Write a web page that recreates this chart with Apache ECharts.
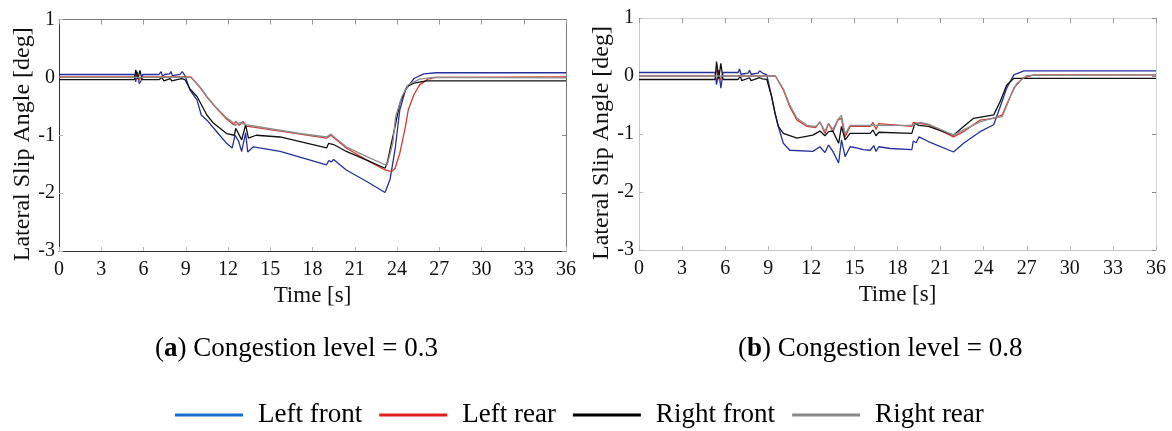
<!DOCTYPE html>
<html><head><meta charset="utf-8">
<script src="https://cdn.jsdelivr.net/npm/echarts@6/dist/echarts.min.js"></script>
<style>html,body{margin:0;padding:0;background:#fff}#c{width:1172px;height:431px}</style>
</head><body><div id="c"></div>
<script>
// ---- data (time [s], lateral slip angle [deg]) ----
const seriesNames = ['Left front', 'Left rear', 'Right front', 'Right rear'];
const captions = ['Congestion level = 0.3', 'Congestion level = 0.8'];
const captionTags = ['a', 'b'];
const xTicks = [0, 3, 6, 9, 12, 15, 18, 21, 24, 27, 30, 33, 36];
const yTicks = [-3, -2, -1, 0, 1];

// (a) congestion 0.3
const aLeftFront = [[0,0.05],[5.35,0.05],[5.45,-0.08],[5.55,0.1],[5.7,-0.11],[5.85,-0.05],[5.95,0.05],[7.1,0.05],[7.25,0.1],[7.35,0.02],[7.5,0.05],[7.85,0.06],[7.95,0.1],[8.05,0.03],[8.6,0.05],[8.75,0.1],[8.95,0.03],[9.3,-0.22],[9.8,-0.39],[10.1,-0.65],[10.5,-0.74],[11.2,-0.94],[11.9,-1.14],[12.3,-1.22],[12.5,-1.0],[12.75,-1.1],[12.97,-1.28],[13.25,-0.96],[13.4,-1.29],[13.8,-1.2],[15.7,-1.28],[19.0,-1.51],[19.15,-1.44],[19.35,-1.46],[19.5,-1.42],[20.4,-1.6],[21.85,-1.8],[23.15,-1.99],[23.5,-1.77],[23.86,-1.25],[24.2,-0.56],[24.6,-0.22],[25.2,-0.02],[25.9,0.06],[26.8,0.08],[36,0.08]];
const aLeftRear = [[0,0.01],[5.4,0.01],[5.5,0.06],[5.65,-0.05],[5.85,0.01],[9.35,0.01],[10.0,-0.17],[10.5,-0.34],[11.2,-0.54],[11.9,-0.72],[12.4,-0.82],[12.55,-0.76],[12.8,-0.83],[13.05,-0.76],[13.3,-0.84],[13.8,-0.86],[15.7,-0.93],[19.0,-1.05],[19.3,-1.0],[19.5,-1.04],[20.4,-1.22],[21.85,-1.43],[23.15,-1.6],[23.6,-1.63],[23.86,-1.57],[24.2,-1.31],[24.6,-0.85],[24.8,-0.56],[25.2,-0.3],[25.6,-0.13],[26.2,-0.03],[26.7,0.0],[36,0.01]];
const aRightFront = [[0,-0.04],[5.35,-0.04],[5.45,0.13],[5.6,-0.02],[5.75,0.12],[5.9,-0.04],[7.1,-0.04],[7.3,0.0],[7.45,-0.06],[7.9,-0.02],[8.0,-0.06],[8.7,-0.02],[8.95,-0.04],[9.3,-0.2],[9.8,-0.33],[10.5,-0.65],[10.96,-0.79],[11.9,-0.97],[12.45,-1.0],[12.55,-0.88],[12.97,-1.08],[13.25,-0.82],[13.45,-1.05],[14.0,-1.0],[15.7,-1.03],[19.0,-1.22],[19.15,-1.14],[19.5,-1.16],[20.4,-1.28],[21.85,-1.43],[23.15,-1.57],[23.3,-1.48],[23.6,-1.14],[23.86,-0.85],[24.2,-0.45],[24.7,-0.16],[25.2,-0.1],[26.1,-0.06],[27.9,-0.06],[28.0,-0.03],[28.1,-0.06],[36,-0.06]];
const aRightRear = [[0,0.0],[9.35,0.0],[10.0,-0.16],[10.5,-0.33],[11.2,-0.53],[11.9,-0.7],[12.4,-0.79],[12.5,-0.83],[12.85,-0.78],[13.3,-0.82],[13.8,-0.84],[17.1,-0.97],[19.0,-1.03],[19.3,-0.98],[19.5,-1.02],[20.4,-1.2],[21.85,-1.37],[23.15,-1.51],[23.3,-1.51],[23.7,-1.14],[23.9,-0.68],[24.35,-0.33],[24.8,-0.13],[25.6,-0.03],[26.6,0.0],[36,-0.01]];

// (b) congestion 0.8
const bLeftFront = [[0,0.06],[5.3,0.06],[5.4,-0.15],[5.55,0.1],[5.7,-0.21],[5.85,0.06],[6.9,0.06],[7.0,0.12],[7.1,0.03],[7.6,0.05],[7.7,0.1],[7.8,0.03],[8.3,0.05],[8.4,0.09],[8.6,0.05],[8.9,0.02],[9.24,-0.36],[9.47,-0.64],[9.7,-0.87],[10.05,-1.16],[10.5,-1.28],[12.1,-1.3],[12.6,-1.22],[12.95,-1.32],[13.2,-1.19],[13.5,-1.3],[13.9,-1.5],[14.1,-1.1],[14.35,-1.39],[14.7,-1.22],[15.15,-1.24],[15.6,-1.27],[16.1,-1.28],[16.35,-1.2],[16.5,-1.3],[16.7,-1.22],[17.5,-1.25],[19.0,-1.27],[19.1,-1.12],[19.3,-1.15],[19.5,-1.05],[20.15,-1.13],[21.9,-1.31],[22.6,-1.16],[23.75,-0.96],[24.7,-0.84],[25.15,-0.53],[25.6,-0.21],[26.1,0.02],[26.8,0.09],[36,0.09]];
const bLeftRear = [[0,0.0],[5.3,0.0],[5.45,0.12],[5.6,-0.08],[5.8,0.0],[9.5,0.0],[10.05,-0.24],[10.5,-0.53],[11.0,-0.76],[11.7,-0.87],[12.3,-0.89],[12.6,-0.79],[12.95,-0.99],[13.2,-0.82],[13.5,-0.96],[13.85,-0.76],[14.1,-0.73],[14.35,-1.05],[14.7,-0.87],[16.1,-0.87],[16.3,-0.8],[16.5,-0.92],[16.7,-0.82],[19.0,-0.87],[19.1,-0.8],[19.6,-0.82],[20.15,-0.84],[21.9,-1.05],[22.6,-0.96],[23.75,-0.76],[24.7,-0.73],[25.3,-0.67],[25.75,-0.41],[26.1,-0.21],[26.7,-0.04],[27.5,0.02],[36,0.02]];
const bRightFront = [[0,-0.06],[5.3,-0.06],[5.4,0.25],[5.55,-0.05],[5.7,0.22],[5.85,-0.06],[6.9,-0.06],[7.05,0.0],[7.15,-0.08],[7.7,-0.03],[7.8,-0.08],[8.4,-0.03],[8.6,-0.05],[8.9,-0.06],[9.24,-0.36],[9.47,-0.64],[9.7,-0.87],[10.05,-0.99],[11.0,-1.07],[12.1,-1.02],[12.6,-0.95],[12.95,-1.03],[13.2,-0.96],[13.5,-0.95],[13.9,-1.16],[14.1,-0.87],[14.35,-1.1],[14.7,-0.99],[16.1,-0.99],[16.3,-0.93],[16.5,-1.03],[16.7,-0.97],[19.0,-0.99],[19.2,-0.82],[19.5,-0.85],[20.15,-0.87],[21.9,-1.02],[22.6,-0.87],[23.3,-0.73],[24.0,-0.7],[24.7,-0.67],[25.15,-0.44],[25.6,-0.16],[26.1,-0.04],[36,-0.04]];
const bRightRear = [[0,0.0],[9.5,0.0],[10.05,-0.22],[10.5,-0.5],[11.0,-0.73],[11.7,-0.85],[12.3,-0.87],[12.6,-0.8],[12.95,-0.95],[13.2,-0.82],[13.5,-0.92],[13.85,-0.75],[14.1,-0.68],[14.35,-1.0],[14.7,-0.85],[16.1,-0.85],[19.0,-0.85],[19.6,-0.8],[20.15,-0.83],[21.9,-1.02],[22.6,-0.93],[23.75,-0.79],[24.7,-0.72],[25.3,-0.7],[25.9,-0.33],[26.3,-0.13],[27.0,0.01],[36,0.02]];

const panels = [
  [aLeftFront, aLeftRear, aRightFront, aRightRear],
  [bLeftFront, bLeftRear, bRightFront, bRightRear]
];

// ---- styles ----
const FONT = '"Liberation Serif", "Times New Roman", serif';
const lineColors = ['#25309c', '#d23a32', '#111111', '#8c8c8c'];
const legendColors = ['#1a6fce', '#e02020', '#000000', '#8a8a8a'];
const grids = [
  {left: 59, top: 19.5, width: 507, height: 231.5, frame: '#777', axis: '#333', ypad: [8,0,0,0], yMargin: 4, nameGap: 23},
  {left: 639, top: 18, width: 517, height: 232, frame: '#d4d4d4', axis: '#c8c8c8', ypad: [10,0,0,0], yMargin: 5, nameGap: 25}
];

const xAxes = [], yAxes = [], series = [];
grids.forEach((g, i) => {
  xAxes.push({
    type: 'value', gridIndex: i, min: 0, max: 36, interval: 3, position: 'bottom',
    name: 'Time [s]', nameLocation: 'middle', nameGap: 26,
    nameTextStyle: {fontFamily: FONT, fontSize: 23, color: '#111'},
    axisLine: {show: true, onZero: false, lineStyle: {color: g.axis, width: 1}},
    axisTick: {show: true, inside: true, length: 4, lineStyle: {color: '#bbb'}},
    axisLabel: {fontFamily: FONT, fontSize: 20, color: '#111', margin: 9},
    splitLine: {show: false}
  });
  xAxes.push({
    type: 'value', gridIndex: i, min: 0, max: 36, interval: 3, position: 'top',
    axisLine: {show: true, onZero: false, lineStyle: {color: g.frame, width: 1}},
    axisTick: {show: true, inside: true, length: 5, lineStyle: {color: '#999'}},
    axisLabel: {show: false}, splitLine: {show: false}
  });
  yAxes.push({
    type: 'value', gridIndex: i, min: -3, max: 1, interval: 1, position: 'left',
    name: 'Lateral Slip Angle [deg]', nameLocation: 'middle', nameGap: g.nameGap,
    nameTextStyle: {fontFamily: FONT, fontSize: 24, color: '#111', padding: [0, 18, 0, 0]},
    axisLine: {show: true, onZero: false, lineStyle: {color: g.axis, width: 1}},
    axisTick: {show: true, inside: true, length: 4, lineStyle: {color: '#bbb'}},
    axisLabel: {fontFamily: FONT, fontSize: 20, color: '#111', margin: g.yMargin, padding: g.ypad},
    splitLine: {show: false}
  });
  yAxes.push({
    type: 'value', gridIndex: i, min: -3, max: 1, interval: 1, position: 'right',
    axisLine: {show: true, onZero: false, lineStyle: {color: g.frame, width: 1}},
    axisTick: {show: true, inside: true, length: 4, lineStyle: {color: '#888'}},
    axisLabel: {show: false}, splitLine: {show: false}
  });
  panels[i].forEach((d, k) => {
    series.push({
      type: 'line', name: seriesNames[k], data: d,
      xAxisIndex: i * 2, yAxisIndex: i * 2,
      showSymbol: false, symbol: 'none', animation: false,
      lineStyle: {color: lineColors[k], width: 1.3},
      itemStyle: {color: lineColors[k]}, z: 2 + k
    });
  });
});

const option = {
  backgroundColor: '#fff',
  animation: false,
  grid: grids.map(g => ({left: g.left, top: g.top, width: g.width, height: g.height, containLabel: false})),
  xAxis: xAxes,
  yAxis: yAxes,
  title: [
    {text: '({b|' + captionTags[0] + '}) ' + captions[0], left: 150, top: 329,
     textStyle: {fontFamily: FONT, fontSize: 27, fontWeight: 'normal', color: '#000', lineHeight: 30,
       rich: {b: {fontFamily: FONT, fontSize: 27, fontWeight: 'bold', color: '#000', lineHeight: 30}}}},
    {text: '({b|' + captionTags[1] + '}) ' + captions[1], left: 733, top: 329,
     textStyle: {fontFamily: FONT, fontSize: 27, fontWeight: 'normal', color: '#000', lineHeight: 30,
       rich: {b: {fontFamily: FONT, fontSize: 27, fontWeight: 'bold', color: '#000', lineHeight: 30}}}}
  ],
  legend: {
    left: 175, top: 401, padding: 0, icon: 'rect', itemWidth: 68, itemHeight: 3, itemGap: 17,
    textStyle: {fontFamily: FONT, fontSize: 27, color: '#000', padding: [0, 0, 0, 10], lineHeight: 28},
    data: seriesNames.map((n, k) => ({name: n, itemStyle: {color: legendColors[k]}}))
  },
  series: series
};
const chart = echarts.init(document.getElementById('c'), null, {renderer: 'canvas'});
chart.setOption(option);
</script></body></html>
